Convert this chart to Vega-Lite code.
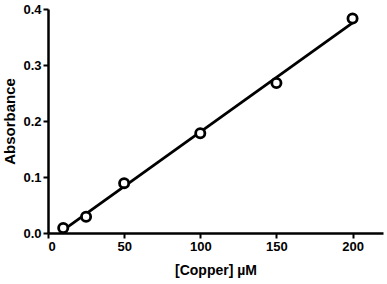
{
  "$schema": "https://vega.github.io/schema/vega-lite/v6.json",
  "width": 335,
  "height": 224,
  "autosize": "none",
  "padding": {"left": 48, "top": 9, "right": 4, "bottom": 51},
  "background": "white",
  "config": {
    "view": {"stroke": null},
    "font": "Liberation Sans",
    "axis": {
      "grid": false,
      "domainColor": "black",
      "domainWidth": 2.5,
      "tickColor": "black",
      "tickWidth": 2,
      "tickSize": 5,
      "labelFont": "Liberation Sans",
      "labelFontWeight": "bold",
      "labelFontSize": 13,
      "labelColor": "black",
      "titleFont": "Liberation Sans",
      "titleFontWeight": "bold",
      "titleFontSize": 14,
      "titleColor": "black"
    }
  },
  "data": {
    "values": [
      {"copper": 10, "absorbance": 0.009},
      {"copper": 25, "absorbance": 0.029},
      {"copper": 50, "absorbance": 0.089},
      {"copper": 100, "absorbance": 0.178},
      {"copper": 150, "absorbance": 0.268},
      {"copper": 200, "absorbance": 0.383}
    ]
  },
  "layer": [
    {
      "transform": [{"regression": "absorbance", "on": "copper", "extent": [10, 200]}],
      "mark": {"type": "line", "color": "black", "strokeWidth": 2.8},
      "encoding": {
        "x": {"field": "copper", "type": "quantitative"},
        "y": {"field": "absorbance", "type": "quantitative"}
      }
    },
    {
      "mark": {"type": "point", "shape": "circle", "filled": true, "fill": "white", "stroke": "black", "strokeWidth": 2.8, "size": 85, "opacity": 1},
      "encoding": {
        "x": {
          "field": "copper", "type": "quantitative",
          "scale": {"domain": [0, 220], "nice": false, "zero": true},
          "axis": {"values": [0, 50, 100, 150, 200], "title": "[Copper] µM", "labelPadding": 2, "titlePadding": 10}
        },
        "y": {
          "field": "absorbance", "type": "quantitative",
          "scale": {"domain": [0, 0.4], "nice": false},
          "axis": {"values": [0, 0.1, 0.2, 0.3, 0.4], "format": ".1f", "title": "Absorbance", "titleFontSize": 15, "labelPadding": 2, "titlePadding": 5}
        }
      }
    }
  ]
}
